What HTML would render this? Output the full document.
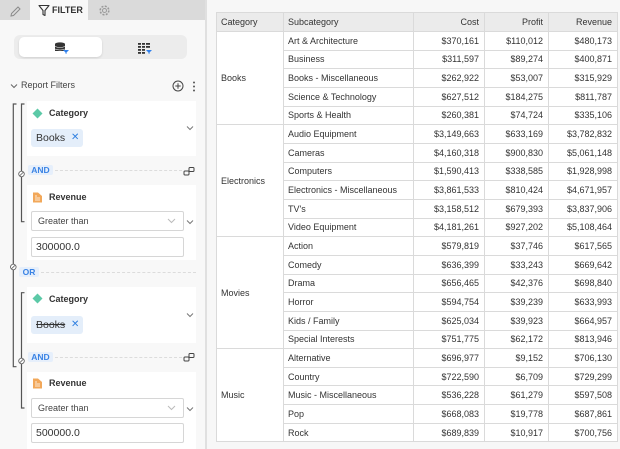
<!DOCTYPE html>
<html><head><meta charset="utf-8">
<style>
*{box-sizing:border-box;margin:0;padding:0}
html,body{width:620px;height:449px;overflow:hidden;background:#f7f7f7;font-family:"Liberation Sans",Arial,sans-serif;color:#333}
.abs{position:absolute}
#left{position:absolute;left:0;top:0;width:205px;height:449px;background:#f8f8f8}
#tabbar{position:absolute;left:0;top:0;width:205px;height:20px;background:#dadada}
#tab{position:absolute;left:30px;top:0;width:58px;height:20px;background:#f8f8f8}
#divider{position:absolute;left:205px;top:0;width:2px;height:449px;background:#e0e0e0}
.card{position:absolute;left:27px;width:169px;background:#fff}
.ttl{position:absolute;left:49px;font-size:9px;font-weight:bold;color:#333;line-height:10px}
.chip{position:absolute;left:31px;width:52px;height:18px;background:#e4eefa;border-radius:3px;font-size:10.5px;line-height:18px;padding-left:5px;color:#333}
.chip .x{position:absolute;left:40px;top:0;color:#2f7fe0;font-size:10px}
.sel{position:absolute;left:31px;width:153px;height:20px;border:1px solid #d6d6d6;border-radius:2px;background:#fff;font-size:9px;line-height:18px;padding-left:6px;color:#444}
.inp{position:absolute;left:31px;width:153px;height:20px;border:1px solid #d6d6d6;border-radius:2px;background:#fff;font-size:10.5px;line-height:18px;padding-left:4px;color:#333}
.lbl{position:absolute;height:10px;background:#e6effb;color:#3a83e4;font-size:8.5px;font-weight:bold;line-height:10px;text-align:center;border-radius:2px}
.dash{position:absolute;height:0;border-top:1px dashed #dcdcdc}
#grid{position:absolute;left:216px;top:12px;display:grid;grid-template-columns:67px 130px 71px 64px 69px;grid-template-rows:19px repeat(22,18.667px);border-left:1px solid #dadada;border-top:1px solid #dadada;background:#fff}
#grid div{border-right:1px solid #dadada;border-bottom:1px solid #dadada;font-size:9px;display:flex;align-items:center;padding:0 4px;white-space:nowrap;color:#333;overflow:hidden}
#grid div.h{background:#ebebeb;color:#333}
#grid div.r{justify-content:flex-end;padding-right:5px}
#grid div.c{grid-column:1}
</style></head><body>
<div id="left">
  <div id="tabbar"></div>
  <div id="tab"></div>
  <!-- pencil -->
  <svg class="abs" style="left:9px;top:5px" width="13" height="13" viewBox="0 0 13 13"><path d="M2 11 L2.5 8.5 L9 2 L11 4 L4.5 10.5 Z" fill="none" stroke="#8a8a8a" stroke-width="1"/></svg>
  <!-- funnel -->
  <svg class="abs" style="left:38px;top:4px" width="12" height="13" viewBox="0 0 12 13"><path d="M1 1.5 H11 L7 6.5 V11.5 L5 10.5 V6.5 Z" fill="none" stroke="#333" stroke-width="1.1" stroke-linejoin="round"/></svg>
  <div class="abs" style="left:52px;top:5px;font-size:9px;font-weight:bold;line-height:11px;color:#333">FILTER</div>
  <!-- gear -->
  <svg class="abs" style="left:98px;top:4px" width="13" height="13" viewBox="0 0 13 13"><circle cx="6.5" cy="6.5" r="4.3" fill="none" stroke="#9a9a9a" stroke-width="1.6" stroke-dasharray="2 1.4"/><circle cx="6.5" cy="6.5" r="2" fill="none" stroke="#9a9a9a" stroke-width="1"/></svg>

  <!-- toggle -->
  <div class="abs" style="left:14px;top:35px;width:173px;height:24px;background:#ececec;border-radius:6px"></div>
  <div class="abs" style="left:19px;top:37px;width:83px;height:20px;background:#fff;border-radius:5px;box-shadow:0 1px 2px rgba(0,0,0,.12)"></div>
  <svg class="abs" style="left:54px;top:42px" width="16" height="12" viewBox="0 0 16 12"><ellipse cx="6" cy="2" rx="5" ry="1.6" fill="#333"/><rect x="1" y="2" width="10" height="7" fill="#333"/><path d="M1 4.5 Q6 6.5 11 4.5 M1 7 Q6 9 11 7" stroke="#fff" stroke-width=".6" fill="none"/><path d="M9 8 H15 L12.5 10.5 V12 L11.5 11.5 V10.5 Z" fill="#2f80ed"/></svg>
  <svg class="abs" style="left:137px;top:42px" width="16" height="12" viewBox="0 0 16 12"><g fill="#333"><rect x="1" y="1" width="3" height="1.8"/><rect x="5" y="1" width="3" height="1.8"/><rect x="9" y="1" width="4" height="1.8"/><rect x="1" y="4" width="3" height="1.8"/><rect x="5" y="4" width="3" height="1.8"/><rect x="9" y="4" width="4" height="1.8"/><rect x="1" y="7" width="3" height="1.8"/><rect x="5" y="7" width="3" height="1.8"/><rect x="1" y="10" width="3" height="1.8"/><rect x="5" y="10" width="3" height="1.8"/></g><path d="M9 8 H15 L12.5 10.5 V12 L11.5 11.5 V10.5 Z" fill="#2f80ed"/></svg>

  <!-- Report Filters -->
  <svg class="abs" style="left:10px;top:83px" width="8" height="6" viewBox="0 0 8 6"><path d="M1 1.5 L4 4.5 L7 1.5" stroke="#666" fill="none" stroke-width="1"/></svg>
  <div class="abs" style="left:21px;top:80px;font-size:9px;line-height:11px;color:#444">Report Filters</div>
  <svg class="abs" style="left:172px;top:80px" width="12" height="12" viewBox="0 0 12 12"><circle cx="6" cy="6" r="5" fill="none" stroke="#444" stroke-width="1"/><path d="M6 3.3 V8.7 M3.3 6 H8.7" stroke="#444" stroke-width="1"/></svg>
  <svg class="abs" style="left:192px;top:81px" width="4" height="11" viewBox="0 0 4 11"><circle cx="2" cy="1.5" r="1" fill="#555"/><circle cx="2" cy="5.5" r="1" fill="#555"/><circle cx="2" cy="9.5" r="1" fill="#555"/></svg>

  <!-- Cards -->
  <div class="card" style="top:101px;height:55px"></div>
  <div class="card" style="top:185px;height:75px"></div>
  <div class="card" style="top:287px;height:56px"></div>
  <div class="card" style="top:372px;height:77px"></div>

  <!-- Card1 -->
  <svg class="abs" style="left:32px;top:108px" width="11" height="11" viewBox="0 0 11 11"><path d="M5.5 0.5 L10.5 5.5 L5.5 10.5 L0.5 5.5 Z" fill="#5cc9a7"/></svg>
  <div class="ttl" style="top:108px">Category</div>
  <svg class="abs" style="left:186px;top:125px" width="8" height="6" viewBox="0 0 8 6"><path d="M1 1.5 L4 4.5 L7 1.5" stroke="#777" fill="none" stroke-width="1"/></svg>
  <div class="chip" style="top:129px">Books<span class="x">✕</span></div>

  <!-- AND 1 -->
  <div class="lbl" style="left:28px;top:165px;width:25px">AND</div>
  <div class="dash" style="left:55px;top:170px;width:127px"></div>
  <svg class="abs" style="left:183px;top:166px" width="12" height="11" viewBox="0 0 12 11"><rect x="1" y="5" width="5" height="4" rx="1" fill="none" stroke="#444" stroke-width="1"/><rect x="6" y="1.5" width="5" height="4" rx="1" fill="none" stroke="#444" stroke-width="1"/></svg>

  <!-- Card2 -->
  <svg class="abs" style="left:32px;top:192px" width="11" height="11" viewBox="0 0 11 11"><path d="M1 0.5 H6 L10 4 V10.5 H1 Z" fill="#f2a85a"/><path d="M3 4 H5 M3 6 H8 M3 8 H8" stroke="#fff" stroke-width=".8"/></svg>
  <div class="ttl" style="top:192px">Revenue</div>
  <div class="sel" style="top:211px">Greater than</div>
  <svg class="abs" style="left:167px;top:218px" width="9" height="6" viewBox="0 0 9 6"><path d="M1 1 L4.5 4.5 L8 1" stroke="#bbb" fill="none" stroke-width="1"/></svg>
  <svg class="abs" style="left:186px;top:219px" width="8" height="6" viewBox="0 0 8 6"><path d="M1 1.5 L4 4.5 L7 1.5" stroke="#777" fill="none" stroke-width="1"/></svg>
  <div class="inp" style="top:237px">300000.0</div>

  <!-- OR -->
  <div class="lbl" style="left:19px;top:267px;width:20px">OR</div>
  <div class="dash" style="left:41px;top:272px;width:155px"></div>

  <!-- Card3 -->
  <svg class="abs" style="left:32px;top:293px" width="11" height="11" viewBox="0 0 11 11"><path d="M5.5 0.5 L10.5 5.5 L5.5 10.5 L0.5 5.5 Z" fill="#5cc9a7"/></svg>
  <div class="ttl" style="top:294px">Category</div>
  <svg class="abs" style="left:186px;top:312px" width="8" height="6" viewBox="0 0 8 6"><path d="M1 1.5 L4 4.5 L7 1.5" stroke="#777" fill="none" stroke-width="1"/></svg>
  <div class="chip" style="top:316px"><span style="text-decoration:line-through">Books</span><span class="x">✕</span></div>

  <!-- AND 2 -->
  <div class="lbl" style="left:28px;top:352px;width:25px">AND</div>
  <div class="dash" style="left:55px;top:357px;width:127px"></div>
  <svg class="abs" style="left:183px;top:352px" width="12" height="11" viewBox="0 0 12 11"><rect x="1" y="5" width="5" height="4" rx="1" fill="none" stroke="#444" stroke-width="1"/><rect x="6" y="1.5" width="5" height="4" rx="1" fill="none" stroke="#444" stroke-width="1"/></svg>

  <!-- Card4 -->
  <svg class="abs" style="left:32px;top:378px" width="11" height="11" viewBox="0 0 11 11"><path d="M1 0.5 H6 L10 4 V10.5 H1 Z" fill="#f2a85a"/><path d="M3 4 H5 M3 6 H8 M3 8 H8" stroke="#fff" stroke-width=".8"/></svg>
  <div class="ttl" style="top:378px">Revenue</div>
  <div class="sel" style="top:398px">Greater than</div>
  <svg class="abs" style="left:167px;top:405px" width="9" height="6" viewBox="0 0 9 6"><path d="M1 1 L4.5 4.5 L8 1" stroke="#bbb" fill="none" stroke-width="1"/></svg>
  <svg class="abs" style="left:186px;top:406px" width="8" height="6" viewBox="0 0 8 6"><path d="M1 1.5 L4 4.5 L7 1.5" stroke="#777" fill="none" stroke-width="1"/></svg>
  <div class="inp" style="top:423px">500000.0</div>

  <!-- brackets -->
  <svg class="abs" style="left:0;top:0" width="30" height="449" viewBox="0 0 30 449">
    <g stroke="#555" stroke-width="1.2" fill="none">
      <path d="M16.5 104 H13.3 V366.7 H16.5"/>
      <path d="M24.5 104 H21.5 V221.7 H24.5"/>
      <path d="M24.5 292.7 H21.5 V408 H24.5"/>
    </g>
    <g fill="#fff" stroke="#666" stroke-width="0.9">
      <circle cx="21.5" cy="174" r="2.8"/>
      <circle cx="13.3" cy="267" r="2.8"/>
      <circle cx="21.5" cy="361" r="2.8"/>
    </g>
    <g stroke="#666" stroke-width="0.8">
      <path d="M19.8 175.7 L23.2 172.3"/>
      <path d="M11.6 268.7 L15 265.3"/>
      <path d="M19.8 362.7 L23.2 359.3"/>
    </g>
  </svg>
</div>
<div id="divider"></div>

<div id="grid">
  <div class="h">Category</div><div class="h">Subcategory</div><div class="h r">Cost</div><div class="h r">Profit</div><div class="h r">Revenue</div>
  <div class="c" style="grid-row:2 / span 5">Books</div>
  <div class="c" style="grid-row:7 / span 6">Electronics</div>
  <div class="c" style="grid-row:13 / span 6">Movies</div>
  <div class="c" style="grid-row:19 / span 5">Music</div>
  <div>Art &amp; Architecture</div><div class="r">$370,161</div><div class="r">$110,012</div><div class="r">$480,173</div>
  <div>Business</div><div class="r">$311,597</div><div class="r">$89,274</div><div class="r">$400,871</div>
  <div>Books - Miscellaneous</div><div class="r">$262,922</div><div class="r">$53,007</div><div class="r">$315,929</div>
  <div>Science &amp; Technology</div><div class="r">$627,512</div><div class="r">$184,275</div><div class="r">$811,787</div>
  <div>Sports &amp; Health</div><div class="r">$260,381</div><div class="r">$74,724</div><div class="r">$335,106</div>
  <div>Audio Equipment</div><div class="r">$3,149,663</div><div class="r">$633,169</div><div class="r">$3,782,832</div>
  <div>Cameras</div><div class="r">$4,160,318</div><div class="r">$900,830</div><div class="r">$5,061,148</div>
  <div>Computers</div><div class="r">$1,590,413</div><div class="r">$338,585</div><div class="r">$1,928,998</div>
  <div>Electronics - Miscellaneous</div><div class="r">$3,861,533</div><div class="r">$810,424</div><div class="r">$4,671,957</div>
  <div>TV's</div><div class="r">$3,158,512</div><div class="r">$679,393</div><div class="r">$3,837,906</div>
  <div>Video Equipment</div><div class="r">$4,181,261</div><div class="r">$927,202</div><div class="r">$5,108,464</div>
  <div>Action</div><div class="r">$579,819</div><div class="r">$37,746</div><div class="r">$617,565</div>
  <div>Comedy</div><div class="r">$636,399</div><div class="r">$33,243</div><div class="r">$669,642</div>
  <div>Drama</div><div class="r">$656,465</div><div class="r">$42,376</div><div class="r">$698,840</div>
  <div>Horror</div><div class="r">$594,754</div><div class="r">$39,239</div><div class="r">$633,993</div>
  <div>Kids / Family</div><div class="r">$625,034</div><div class="r">$39,923</div><div class="r">$664,957</div>
  <div>Special Interests</div><div class="r">$751,775</div><div class="r">$62,172</div><div class="r">$813,946</div>
  <div>Alternative</div><div class="r">$696,977</div><div class="r">$9,152</div><div class="r">$706,130</div>
  <div>Country</div><div class="r">$722,590</div><div class="r">$6,709</div><div class="r">$729,299</div>
  <div>Music - Miscellaneous</div><div class="r">$536,228</div><div class="r">$61,279</div><div class="r">$597,508</div>
  <div>Pop</div><div class="r">$668,083</div><div class="r">$19,778</div><div class="r">$687,861</div>
  <div>Rock</div><div class="r">$689,839</div><div class="r">$10,917</div><div class="r">$700,756</div>
</div>
</body></html>
